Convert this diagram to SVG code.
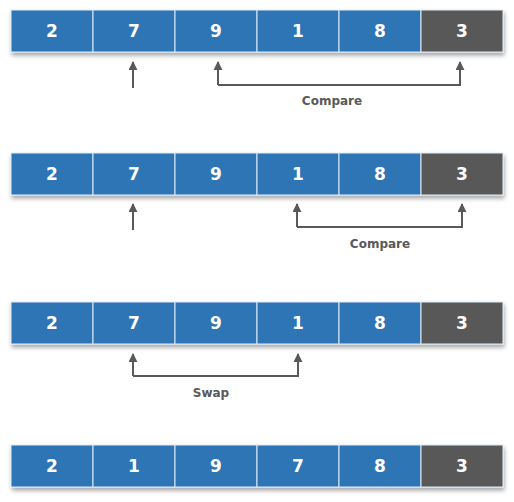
<svg xmlns="http://www.w3.org/2000/svg" width="514" height="502" viewBox="0 0 514 502">
<style>
.c{fill:#2E75B6;stroke:#DDEBF7;stroke-width:1}
.p{fill:#595959;stroke:#DDEBF7;stroke-width:1}
.n{font-family:"DejaVu Sans",Verdana,sans-serif;font-weight:bold;font-size:17px;fill:#fff;text-anchor:middle}
.l{font-family:"DejaVu Sans",Verdana,sans-serif;font-weight:bold;font-size:12px;fill:#595959;text-anchor:middle}
.a{fill:none;stroke:#595959;stroke-width:2}
</style>
<defs>
<marker id="ah" viewBox="0 0 10 10" refX="9" refY="5" markerWidth="4.5" markerHeight="4.5" orient="auto"><path d="M0,0 L10,5 L0,10 z" fill="#595959"/></marker>
<filter id="sh" x="-5%" y="-30%" width="110%" height="170%"><feDropShadow dx="1" dy="3" stdDeviation="2" flood-color="#000" flood-opacity="0.35"/></filter>
</defs>
<g id="row1" filter="url(#sh)">
<rect class="c" x="11" y="10" width="82" height="42"/><rect class="c" x="93" y="10" width="82" height="42"/><rect class="c" x="175" y="10" width="82" height="42"/><rect class="c" x="257" y="10" width="82" height="42"/><rect class="c" x="339" y="10" width="82" height="42"/><rect class="p" x="421" y="10" width="82" height="42"/>
</g>
<g id="row1-text"><text class="n" x="52" y="37">2</text><text class="n" x="134" y="37">7</text><text class="n" x="216" y="37">9</text><text class="n" x="298" y="37">1</text><text class="n" x="380" y="37">8</text><text class="n" x="462" y="37">3</text></g>
<g id="row2" filter="url(#sh)">
<rect class="c" x="11" y="153" width="82" height="42"/><rect class="c" x="93" y="153" width="82" height="42"/><rect class="c" x="175" y="153" width="82" height="42"/><rect class="c" x="257" y="153" width="82" height="42"/><rect class="c" x="339" y="153" width="82" height="42"/><rect class="p" x="421" y="153" width="82" height="42"/>
</g>
<g id="row2-text"><text class="n" x="52" y="180">2</text><text class="n" x="134" y="180">7</text><text class="n" x="216" y="180">9</text><text class="n" x="298" y="180">1</text><text class="n" x="380" y="180">8</text><text class="n" x="462" y="180">3</text></g>
<g id="row3" filter="url(#sh)">
<rect class="c" x="11" y="302" width="82" height="42"/><rect class="c" x="93" y="302" width="82" height="42"/><rect class="c" x="175" y="302" width="82" height="42"/><rect class="c" x="257" y="302" width="82" height="42"/><rect class="c" x="339" y="302" width="82" height="42"/><rect class="p" x="421" y="302" width="82" height="42"/>
</g>
<g id="row3-text"><text class="n" x="52" y="329">2</text><text class="n" x="134" y="329">7</text><text class="n" x="216" y="329">9</text><text class="n" x="298" y="329">1</text><text class="n" x="380" y="329">8</text><text class="n" x="462" y="329">3</text></g>
<g id="row4" filter="url(#sh)">
<rect class="c" x="11" y="445" width="82" height="42"/><rect class="c" x="93" y="445" width="82" height="42"/><rect class="c" x="175" y="445" width="82" height="42"/><rect class="c" x="257" y="445" width="82" height="42"/><rect class="c" x="339" y="445" width="82" height="42"/><rect class="p" x="421" y="445" width="82" height="42"/>
</g>
<g id="row4-text"><text class="n" x="52" y="472">2</text><text class="n" x="134" y="472">1</text><text class="n" x="216" y="472">9</text><text class="n" x="298" y="472">7</text><text class="n" x="380" y="472">8</text><text class="n" x="462" y="472">3</text></g>
<g id="connectors">
<path class="a" d="M133,88 V62" marker-end="url(#ah)"/>
<path class="a" d="M218,85 V62" marker-end="url(#ah)"/>
<path class="a" d="M218,85 H460 V62" marker-end="url(#ah)"/>
<path class="a" d="M133,230 V204" marker-end="url(#ah)"/>
<path class="a" d="M297,227 V204" marker-end="url(#ah)"/>
<path class="a" d="M297,227 H462 V204" marker-end="url(#ah)"/>
<path class="a" d="M133,376 V354" marker-end="url(#ah)"/>
<path class="a" d="M133,376 H298 V354" marker-end="url(#ah)"/>
</g>
<g id="labels">
<text class="l" x="332" y="105">Compare</text>
<text class="l" x="380" y="248">Compare</text>
<text class="l" x="211" y="397">Swap</text>
</g>
</svg>
